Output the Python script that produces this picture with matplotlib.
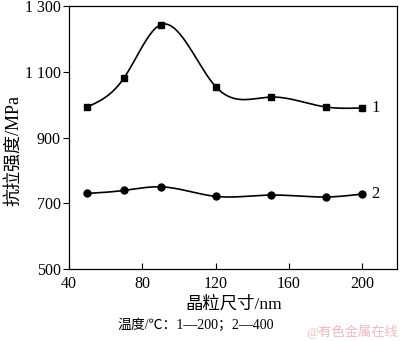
import numpy as np
import matplotlib
matplotlib.use("Agg")
import matplotlib.pyplot as plt

plt.rcParams['font.family'] = ['Liberation Serif', 'Noto Sans CJK SC', 'DejaVu Sans']

grain_size = [50, 70, 90, 120, 150, 180, 200]
strength_200 = [993, 1081, 1243, 1055, 1023, 993, 990]
strength_400 = [730, 739, 750, 721, 725, 719, 728]
x_ticks = [40, 80, 120, 160, 200]
y_ticks = [500, 700, 900, 1100, 1300]
y_tick_labels = ["500", "700", "900", "1 100", "1 300"]


def natural_spline(x, y, n=300):
    x = np.asarray(x, float); y = np.asarray(y, float)
    k = len(x); h = np.diff(x)
    A = np.zeros((k, k)); b = np.zeros(k)
    A[0, 0] = A[-1, -1] = 1
    for i in range(1, k - 1):
        A[i, i - 1] = h[i - 1]; A[i, i] = 2 * (h[i - 1] + h[i]); A[i, i + 1] = h[i]
        b[i] = 6 * ((y[i + 1] - y[i]) / h[i] - (y[i] - y[i - 1]) / h[i - 1])
    M = np.linalg.solve(A, b)
    xs = np.linspace(x[0], x[-1], n); ys = np.empty_like(xs)
    for j, xv in enumerate(xs):
        i = min(np.searchsorted(x, xv, side='right') - 1, k - 2)
        t1 = x[i + 1] - xv; t0 = xv - x[i]
        ys[j] = (M[i] * t1**3 + M[i + 1] * t0**3) / (6 * h[i]) + \
                (y[i] / h[i] - M[i] * h[i] / 6) * t1 + (y[i + 1] / h[i] - M[i + 1] * h[i] / 6) * t0
    return xs, ys


fig = plt.figure(figsize=(4.0, 3.41), dpi=100)
ax = fig.add_axes([0.1725, 0.2111, 0.82, 0.7713])

for data, mk, lab in [(strength_200, 's', '1'), (strength_400, 'o', '2')]:
    xs, ys = natural_spline(grain_size, data)
    ax.plot(xs, ys, color='black', lw=1.2)
    ax.plot(grain_size, data, mk, color='black', ms=4.5 if mk == 's' else 5)
    ax.text(grain_size[-1] + 5, data[-1], lab, fontsize=12, va='center', ha='left')

ax.set_xlim(40, 219)
ax.set_ylim(500, 1300)
ax.set_xticks(x_ticks)
ax.set_yticks(y_ticks)
ax.set_yticklabels(y_tick_labels)
ax.tick_params(axis='x', direction='in', length=4, labelsize=11.5, pad=5)
ax.tick_params(axis='y', direction='out', length=4, labelsize=11.5, pad=2)
for s in ax.spines.values():
    s.set_linewidth(0.9)

fig.text(0.035, 1 - 150 / 341, "抗拉强度/MPa", fontsize=13, rotation=90,
         ha='center', va='center')
fig.text(0.585, 1 - 304 / 341, "晶粒尺寸/nm", fontsize=12.5, ha='center', va='center')
fig.text(0.49, 1 - 325 / 341, "温度/℃：1—200；2—400", fontsize=10, ha='center', va='center')
fig.text(0.995, 1 - 332 / 341, "@有色金属在线", fontsize=9.5, ha='right', va='center',
         color='#f4b8c0')

fig.savefig("out.png", dpi=100)
